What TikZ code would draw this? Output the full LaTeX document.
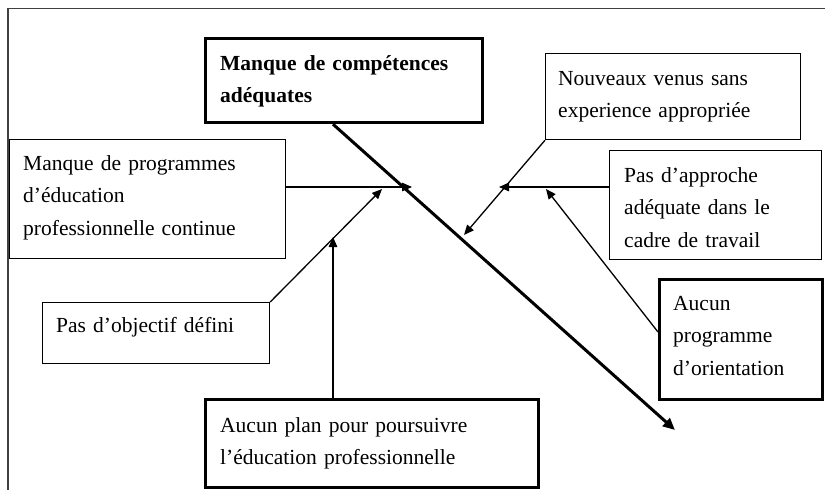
\documentclass[tikz,border=0pt]{standalone}
\usepackage{fontspec}
\setmainfont{Liberation Serif}
\usetikzlibrary{arrows.meta,calc}

\begin{document}
\begin{tikzpicture}[x=1pt,y=-1pt,
  thinbox/.style={draw, line width=1.2pt, rectangle, inner sep=0pt, anchor=north west},
  thickbox/.style={draw, line width=3.2pt, rectangle, inner sep=0pt, anchor=north west},
  boxtext/.style={anchor=base west, inner sep=0pt, align=left, text width=330pt,
    font=\fontsize{21.5}{32.5}\selectfont},
  feeder/.style={line width=1.3pt, -{Triangle[length=10pt,width=8.5pt]}},
  spine/.style={line width=3pt, -{Triangle[length=12pt,width=10.5pt]}},
  frameline/.style={draw=black!75, line width=1.8pt}]

  % page area
  \path[fill=white] (0,0) rectangle (825,490);
  \useasboundingbox (0,0) rectangle (825,490);

  % outer frame (top and left edges)
  \coordinate (frameTR) at (825,8.5);
  \coordinate (frameTL) at (8,8.5);
  \coordinate (frameBL) at (8,490);
  \draw[frameline] (frameTR) -- (frameTL) -- (frameBL);

  % boxes
  \node[thickbox, minimum width=277pt, minimum height=84pt] (main) at (204,37) {};
  \node[thinbox, minimum width=255pt, minimum height=86pt] (nouveaux) at (545,53) {};
  \node[thinbox, minimum width=276pt, minimum height=119pt] (prog) at (9,139) {};
  \node[thinbox, minimum width=212pt, minimum height=109pt] (approche) at (609,150) {};
  \node[thinbox, minimum width=227pt, minimum height=61pt] (objectif) at (42,302) {};
  \node[thickbox, minimum width=163pt, minimum height=120pt] (orient) at (658,278) {};
  \node[thickbox, minimum width=333pt, minimum height=88pt] (plan) at (204,398) {};

  % texts
  \node[boxtext, font=\fontsize{21.5}{32.5}\selectfont\bfseries] (mainT) at (220,70)
    {Manque de compétences\\adéquates};
  \node[boxtext] (nouveauxT) at (558,85) {Nouveaux venus sans\\experience appropriée};
  \node[boxtext] (progT) at (23,170)
    {Manque de programmes\\d’éducation\\professionnelle continue};
  \node[boxtext] (approcheT) at (624,182) {Pas d’approche\\adéquate dans le\\cadre de travail};
  \node[boxtext] (objectifT) at (56,332) {Pas d’objectif défini};
  \node[boxtext] (orientT) at (673,310) {Aucun\\programme\\d’orientation};
  \node[boxtext] (planT) at (220,432) {Aucun plan pour poursuivre\\l’éducation professionnelle};

  % junction points
  \coordinate (spineStart) at ($(main.south west)+(129,0)$);
  \coordinate (spineEnd) at (675,430);
  \coordinate (hubA) at (412,187);
  \coordinate (hubB) at (382,189);
  \coordinate (hubC) at (333,237);
  \coordinate (hubD) at (464,235);
  \coordinate (hubE) at (499,187);
  \coordinate (hubF) at (546,189);

  % main spine
  \draw[spine] (spineStart) -- (spineEnd);

  % causes
  \draw[feeder] ($(prog.north east)+(0,48)$) -- (hubA);
  \draw[feeder] (objectif.north east) -- (hubB);
  \draw[feeder] ($(plan.north west)+(129,0)$) -- (hubC);
  \draw[feeder] (nouveaux.south west) -- (hubD);
  \draw[feeder] ($(approche.north west)+(0,37)$) -- (hubE);
  \draw[feeder] ($(orient.north west)+(0,54)$) -- (hubF);
\end{tikzpicture}
\end{document}
